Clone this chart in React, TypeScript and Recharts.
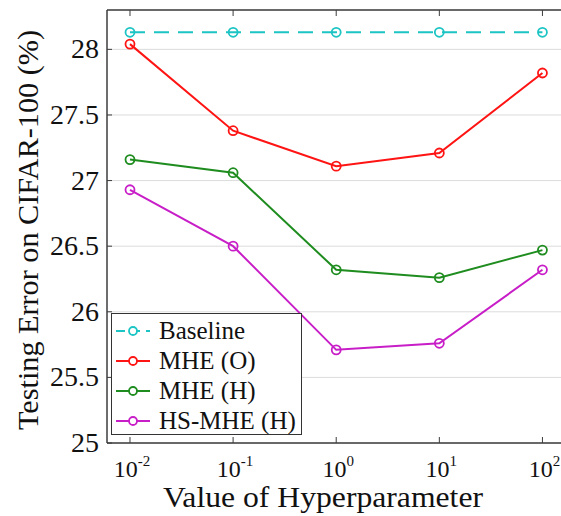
import React from "react";
import {
  LineChart,
  Line,
  XAxis,
  YAxis,
  CartesianGrid,
  ReferenceLine,
} from "recharts";

// exponent of the hyperparameter (10^x)
const exponents = [-2, -1, 0, 1, 2];
const baseline = [28.13, 28.13, 28.13, 28.13, 28.13];
const mheO = [28.04, 27.38, 27.11, 27.21, 27.82];
const mheH = [27.16, 27.06, 26.32, 26.26, 26.47];
const hsMheH = [26.93, 26.5, 25.71, 25.76, 26.32];
const yTicks = [25, 25.5, 26, 26.5, 27, 27.5, 28];

const series = [
  { key: "baseline", name: "Baseline", color: "#1cc4c4", dashed: true },
  { key: "mheO", name: "MHE (O)", color: "#ff1414", dashed: false },
  { key: "mheH", name: "MHE (H)", color: "#1e8c1e", dashed: false },
  { key: "hsMheH", name: "HS-MHE (H)", color: "#c81ec8", dashed: false },
];

const rows = exponents.map((x, i) => ({
  x,
  baseline: baseline[i],
  mheO: mheO[i],
  mheH: mheH[i],
  hsMheH: hsMheH[i],
}));

const W = 561;
const H = 516;
const TOP = 10;
const LEFT = 107;
const BOTTOM = 443;
const FONT = "Liberation Serif";
const AXIS = "#3c3c3c";

const XTick = (props: any) => {
  const { x, y, payload } = props;
  return (
    <g>
      <line x1={x} x2={x} y1={y} y2={y - 6} stroke={AXIS} strokeWidth={1} />
      <line x1={x} x2={x} y1={TOP} y2={TOP + 6} stroke={AXIS} strokeWidth={1} />
      <text x={x + 2} y={y + 34} textAnchor="middle" style={{ fontFamily: FONT }} fontSize={24} fill="#111">
        <tspan>10</tspan>
        <tspan dy={-11} fontSize={15}>{String(payload.value)}</tspan>
      </text>
    </g>
  );
};

const YTick = (props: any) => {
  const { x, y, payload } = props;
  return (
    <g>
      <line x1={x} x2={x + 5} y1={y} y2={y} stroke={AXIS} strokeWidth={1} />
      <text x={x - 8} y={y + 9} textAnchor="end" style={{ fontFamily: FONT }} fontSize={28} fill="#111">
        {String(payload.value)}
      </text>
    </g>
  );
};

function LegendBox() {
  return (
    <div
      style={{
        position: "absolute",
        left: 111,
        top: 313,
        width: 191,
        height: 122,
        border: "1.5px solid #333",
        background: "#fff",
        boxSizing: "border-box",
        fontFamily: FONT,
        fontSize: 25,
        color: "#111",
      }}
    >
      {series.map((s, i) => (
        <div
          key={s.key}
          style={{
            position: "absolute",
            left: 0,
            top: 2 + i * 30,
            height: 30,
            display: "flex",
            alignItems: "center",
          }}
        >
          <svg width={47} height={30} style={{ display: "block" }}>
            <line
              x1={4}
              x2={38}
              y1={15}
              y2={15}
              stroke={s.color}
              strokeWidth={2}
              strokeDasharray={s.dashed ? "9 6" : undefined}
            />
            <circle cx={21} cy={15} r={4} fill="#fff" stroke={s.color} strokeWidth={1.8} />
          </svg>
          <span style={{ whiteSpace: "nowrap", lineHeight: "30px" }}>{s.name}</span>
        </div>
      ))}
    </div>
  );
}

export default function App() {
  return (
    <div style={{ position: "absolute", left: 0, top: 0, width: W, height: H, background: "#fff" }}>
      <LineChart
        width={W}
        height={H}
        data={rows}
        margin={{ top: TOP, right: 0, left: 0, bottom: 0 }}
      >
        <CartesianGrid horizontal vertical={false} stroke="#dcdcdc" strokeWidth={1} />
        <XAxis
          dataKey="x"
          type="number"
          domain={[-2.223, 2.18]}
          ticks={exponents}
          allowDataOverflow
          height={H - BOTTOM}
          tickLine={false}
          tickSize={0}
          tickMargin={0}
          axisLine={{ stroke: AXIS, strokeWidth: 1.5 }}
          tick={<XTick />}
          interval={0}
        />
        <YAxis
          type="number"
          domain={[25, 28.3]}
          ticks={yTicks}
          allowDataOverflow
          width={LEFT}
          tickLine={false}
          tickSize={0}
          tickMargin={0}
          axisLine={{ stroke: AXIS, strokeWidth: 1.5 }}
          tick={<YTick />}
          interval={0}
        />
        <ReferenceLine y={28.3} stroke={AXIS} strokeWidth={1.5} />
        {series.map((s) => (
          <Line
            key={s.key}
            dataKey={s.key}
            name={s.name}
            stroke={s.color}
            strokeWidth={2}
            strokeDasharray={s.dashed ? "15 9" : undefined}
            dot={{ r: 4.5, stroke: s.color, strokeWidth: 1.8, fill: "none", strokeDasharray: "" }}
            activeDot={false}
            type="linear"
            isAnimationActive={false}
          />
        ))}
        <text
          x={323}
          y={507}
          textAnchor="middle"
          style={{ fontFamily: FONT }}
          fontSize={29}
          fill="#111"
          textLength={320}
          lengthAdjust="spacingAndGlyphs"
        >
          Value of Hyperparameter
        </text>
        <text
          x={0}
          y={0}
          transform="translate(38,230) rotate(-90)"
          textAnchor="middle"
          style={{ fontFamily: FONT }}
          fontSize={29}
          fill="#111"
          textLength={400}
          lengthAdjust="spacingAndGlyphs"
        >
          Testing Error on CIFAR-100 (%)
        </text>
      </LineChart>
      <LegendBox />
    </div>
  );
}
